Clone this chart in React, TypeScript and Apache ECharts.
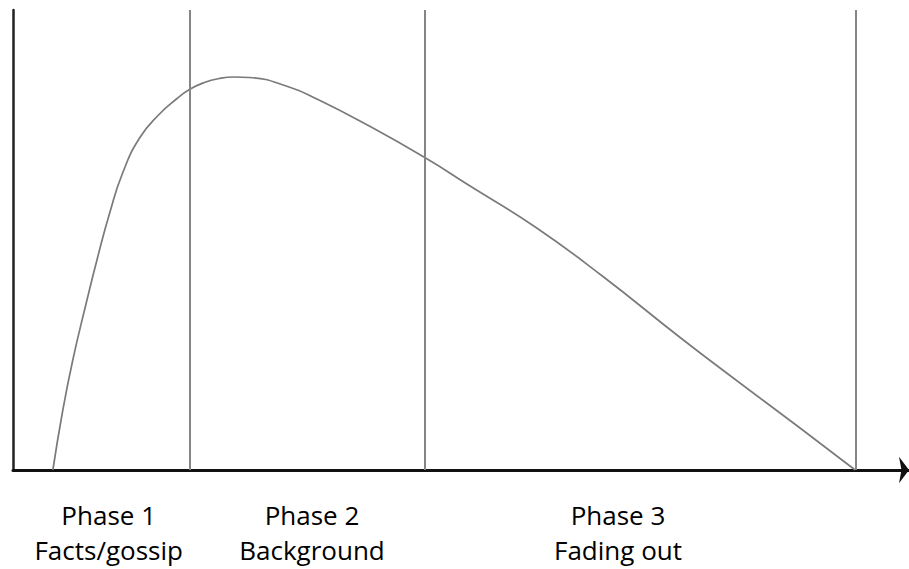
import React, { useEffect, useRef } from "react";
import * as echarts from "echarts";

// Curve of interest over time (arbitrary units)
const curveX = [40, 50, 60, 73, 85, 97, 110, 127, 147, 164, 177, 192, 207, 222, 237, 277, 307, 350, 414, 457, 524, 590, 670, 720, 787, 845];
const curveY = [0, 60, 110, 165, 213, 257, 297, 332, 356, 371, 380.5, 387.5, 391.5, 393, 392.5, 383, 370, 348, 312, 285, 243, 195, 132, 94, 44, 0];

// Phase boundaries (x positions of the vertical lines)
const phaseBoundaries = [177, 413, 846];

// Phase labels and their centre positions on the x scale
const phaseTitles = ["Phase 1", "Phase 2", "Phase 3"];
const phaseNames = ["Facts/gossip", "Background", "Fading out"];
const phaseLabelX = [96, 300, 607];

const X_MAX = 899;
const Y_MAX = 460;

export default function App() {
  const ref = useRef<HTMLDivElement>(null);

  useEffect(() => {
    if (!ref.current) return;
    const chart = echarts.init(ref.current, null, { renderer: "svg" });
    const font = "Open Sans";
    const option: any = {
      animation: false,
      backgroundColor: "#ffffff",
      grid: { left: 13, right: -3, top: 10, bottom: 99 },
      xAxis: {
        type: "value",
        min: 0,
        max: X_MAX,
        axisLine: {
          show: true,
          onZero: false,
          symbol: ["none", "arrow"],
          symbolSize: [20, 10],
          lineStyle: { color: "#111111", width: 3 },
        },
        axisTick: { show: false },
        axisLabel: { show: false },
        splitLine: { show: false },
      },
      yAxis: {
        type: "value",
        min: 0,
        max: Y_MAX,
        axisLine: { show: true, lineStyle: { color: "#222222", width: 2.5 } },
        axisTick: { show: false },
        axisLabel: { show: false },
        splitLine: { show: false },
      },
      series: [
        {
          type: "line",
          data: curveX.map((x, i) => [x, curveY[i]]),
          smooth: 0.5,
          symbol: "none",
          lineStyle: { color: "#7a7a7a", width: 1.7 },
          markLine: {
            silent: true,
            symbol: "none",
            label: { show: false },
            lineStyle: { color: "#858585", width: 2, type: "solid" },
            data: phaseBoundaries.map((v) => ({ xAxis: v })),
          },
          z: 3,
        },
      ],
    };
    chart.setOption(option);

    const graphics: any[] = [];
    phaseLabelX.forEach((v, i) => {
      const px = chart.convertToPixel({ xAxisIndex: 0 }, v) as number;
      graphics.push({
        type: "text",
        x: px,
        y: 515,
        style: {
          text: phaseTitles[i],
          fill: "#000000",
          font: `26px "${font}", sans-serif`,
          textAlign: "center",
          textVerticalAlign: "middle",
        },
      });
      graphics.push({
        type: "text",
        x: px,
        y: 550,
        style: {
          text: phaseNames[i],
          fill: "#000000",
          font: `26px "${font}", sans-serif`,
          textAlign: "center",
          textVerticalAlign: "middle",
        },
      });
    });
    chart.setOption({ graphic: graphics });

    return () => chart.dispose();
  }, []);

  return (
    <div
      ref={ref}
      style={{ position: "fixed", left: 0, top: 0, width: 909, height: 569, background: "#fff" }}
    />
  );
}
